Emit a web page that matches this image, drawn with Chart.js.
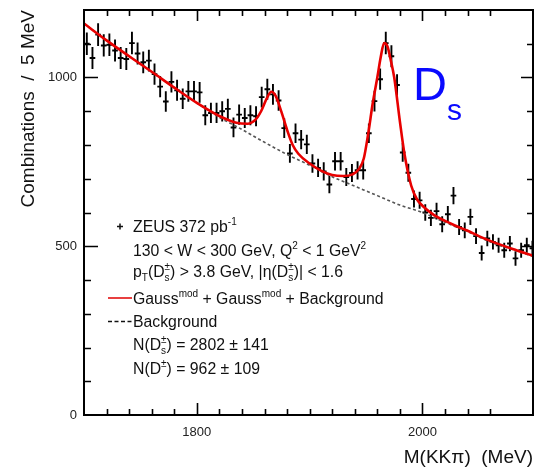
<!DOCTYPE html>
<html><head><meta charset="utf-8">
<script src="https://cdn.jsdelivr.net/npm/chart.js@4"></script>
<style>html,body{margin:0;padding:0;background:#fff;} canvas{display:block;}</style>
</head><body>
<canvas id="c" width="537" height="469"></canvas>
<script>
// ---- data ----
const binCenters = [1702.5,1707.5,1712.5,1717.5,1722.5,1727.5,1732.5,1737.5,1742.5,1747.5,
  1752.5,1757.5,1762.5,1767.5,1772.5,1777.5,1782.5,1787.5,1792.5,1797.5,
  1802.5,1807.5,1812.5,1817.5,1822.5,1827.5,1832.5,1837.5,1842.5,1847.5,
  1852.5,1857.5,1862.5,1867.5,1872.5,1877.5,1882.5,1887.5,1892.5,1897.5,
  1902.5,1907.5,1912.5,1917.5,1922.5,1927.5,1932.5,1937.5,1942.5,1947.5,
  1952.5,1957.5,1962.5,1967.5,1972.5,1977.5,1982.5,1987.5,1992.5,1997.5,
  2002.5,2007.5,2012.5,2017.5,2022.5,2027.5,2032.5,2037.5,2042.5,2047.5,
  2052.5,2057.5,2062.5,2067.5,2072.5,2077.5,2082.5,2087.5,2092.5,2097.5];
const counts = [1100,1058,1127,1095,1097,1080,1058,1055,1102,1071,
  1045,1050,1010,973,929,987,962,937,959,959,
  956,888,895,895,900,907,852,890,880,888,
  885,942,965,950,932,850,775,835,816,802,
  745,732,722,683,752,752,705,717,725,725,
  835,930,995,1102,1063,978,778,718,640,636,
  600,584,604,565,595,650,557,547,587,530,
  480,523,513,503,488,508,464,488,503,494];
const fitMass = [1700,1720,1740,1760,1780,1800,1820,1835,1845,1852,1857,1862,1866,1870,1875,1880,1885,1890,1900,1910,1920,1930,1938,1944,1948,1952,1956,1960,1963,1966,1969,1972,1975,1980,1984,1990,1995,2000,2010,2020,2030,2040,2050,2060,2080,2098];
const fitVals = [1160,1110,1063,1017,970,925,886,866,863,875,900,938,958,945,898,845,800,774,745,724,711,708,713,730,760,835,925,1000,1060,1102,1092,1050,1000,870,775,680,640,620,593,575,560,546,530,516,492,472];
const bgMass = [1700,1720,1740,1760,1780,1800,1820,1840,1860,1880,1900,1920,1940,1960,1980,2000,2020,2040,2060,2080,2098];
const bgVals = [1160,1110,1063,1017,970,925,882,846,808,772,740,706,678,650,622,600,571,543,513,490,470];
const xTickLabels = [1800, 2000];
const yTickLabels = [0, 500, 1000];
const binHalfWidth = 2.5;

const toXY = (xs, ys) => xs.map((x, i) => ({x: x, y: ys[i]}));
const FONT = "'Liberation Sans', Arial, Helvetica, sans-serif";

function drawRich(ctx, x, y, parts, size) {
  ctx.textBaseline = 'alphabetic';
  ctx.textAlign = 'left';
  const small = Math.round(size * 0.64);
  for (const p of parts) {
    if (typeof p === 'string') {
      ctx.font = size + 'px ' + FONT;
      ctx.fillText(p, x, y);
      x += ctx.measureText(p).width;
    } else {
      const kind = p[0], a = p[1], b = p[2];
      ctx.font = small + 'px ' + FONT;
      if (kind === 'sup') {
        ctx.fillText(a, x, y - size * 0.42); x += ctx.measureText(a).width;
      } else if (kind === 'sub') {
        ctx.fillText(a, x, y + size * 0.25); x += ctx.measureText(a).width;
      } else {
        ctx.fillText(a, x, y - size * 0.42);
        const w1 = ctx.measureText(a).width;
        ctx.fillText(b, x, y + size * 0.27);
        const w2 = ctx.measureText(b).width;
        x += Math.max(w1, w2);
      }
    }
  }
}

const overlay = {
  id: 'overlay',
  beforeDatasetsDraw(chart) {
    const ctx = chart.ctx, xs = chart.scales.x, ys = chart.scales.y, a = chart.chartArea;
    ctx.save();
    ctx.beginPath(); ctx.rect(a.left, a.top, a.right - a.left, a.bottom - a.top); ctx.clip();
    ctx.strokeStyle = '#000'; ctx.lineWidth = 1.9;
    const pts = chart.data.datasets[0].data;
    ctx.beginPath();
    for (const p of pts) {
      const e = Math.sqrt(p.y);
      const px = xs.getPixelForValue(p.x), py = ys.getPixelForValue(p.y);
      ctx.moveTo(xs.getPixelForValue(p.x - binHalfWidth), py);
      ctx.lineTo(xs.getPixelForValue(p.x + binHalfWidth), py);
      ctx.moveTo(px, ys.getPixelForValue(p.y - e));
      ctx.lineTo(px, ys.getPixelForValue(p.y + e));
    }
    ctx.stroke();
    ctx.restore();
  },
  afterDatasetsDraw(chart) {
    const ctx = chart.ctx, xs = chart.scales.x, ys = chart.scales.y, a = chart.chartArea;
    ctx.save();
    ctx.strokeStyle = '#000';
    ctx.lineWidth = 2;
    ctx.strokeRect(a.left, a.top, a.right - a.left, a.bottom - a.top);
    ctx.lineWidth = 1.6;
    ctx.beginPath();
    for (const t of xs.ticks) {
      const v = t.value;
      if (v <= xs.min || v >= xs.max) continue;
      const px = Math.round(xs.getPixelForValue(v)) + 0.5;
      const major = xTickLabels.includes(v);
      ctx.moveTo(px, a.bottom); ctx.lineTo(px, a.bottom - (major ? 12 : 6));
      ctx.moveTo(px, a.top); ctx.lineTo(px, a.top + (major ? 11 : 6));
    }
    for (const t of ys.ticks) {
      const v = t.value;
      if (v <= ys.min || v >= ys.max) continue;
      const py = Math.round(ys.getPixelForValue(v)) + 0.5;
      const major = yTickLabels.includes(v);
      ctx.moveTo(a.left, py); ctx.lineTo(a.left + (major ? 14 : 7), py);
      ctx.moveTo(a.right, py); ctx.lineTo(a.right - (major ? 12 : 6), py);
    }
    ctx.stroke();

    // legend block
    const size = 15.8;
    ctx.fillStyle = '#111';
    ctx.strokeStyle = '#111';
    ctx.lineWidth = 1.5;
    ctx.beginPath();
    ctx.moveTo(117, 226.5); ctx.lineTo(123, 226.5);
    ctx.moveTo(120, 223.5); ctx.lineTo(120, 229.5);
    ctx.stroke();
    const lx = 133;
    drawRich(ctx, lx, 232, ['ZEUS 372 pb', ['sup', '-1']], size);
    drawRich(ctx, lx, 255.5, ['130 < W < 300 GeV, Q', ['sup', '2'], ' < 1 GeV', ['sup', '2']], size);
    drawRich(ctx, lx, 277, ['p', ['sub', 'T'], '(D', ['ss', '\u00b1', 's'], ') > 3.8 GeV, |\u03b7(D', ['ss', '\u00b1', 's'], ')| < 1.6'], size);
    ctx.strokeStyle = '#e00000'; ctx.lineWidth = 1.5;
    ctx.beginPath(); ctx.moveTo(108, 298); ctx.lineTo(132, 298); ctx.stroke();
    drawRich(ctx, lx, 303.5, ['Gauss', ['sup', 'mod'], ' + Gauss', ['sup', 'mod'], ' + Background'], size);
    ctx.strokeStyle = '#111'; ctx.setLineDash([4, 2.5]);
    ctx.beginPath(); ctx.moveTo(108, 321.5); ctx.lineTo(132, 321.5); ctx.stroke();
    ctx.setLineDash([]);
    drawRich(ctx, lx, 327, ['Background'], size);
    drawRich(ctx, lx, 349.5, ['N(D', ['ss', '\u00b1', 's'], ') = 2802 \u00b1 141'], size);
    drawRich(ctx, lx, 373.5, ['N(D', ['sup', '\u00b1'], ') = 962 \u00b1 109'], size);

    // D_s label
    ctx.fillStyle = '#0a0aff';
    ctx.textBaseline = 'alphabetic'; ctx.textAlign = 'left';
    ctx.font = '47px ' + FONT;
    ctx.fillText('D', 413, 100);
    ctx.font = '30px ' + FONT;
    ctx.fillText('s', 447, 120);
    ctx.restore();
  }
};

new Chart(document.getElementById('c'), {
  type: 'scatter',
  data: {
    datasets: [
      {label: 'ZEUS 372 pb-1', data: toXY(binCenters, counts), pointRadius: 0, showLine: false, order: 3},
      {label: 'Gauss mod + Gauss mod + Background', data: toXY(fitMass, fitVals), showLine: true, pointRadius: 0,
       borderColor: '#e80000', borderWidth: 2.6, cubicInterpolationMode: 'monotone', order: 1},
      {label: 'Background', data: toXY(bgMass, bgVals), showLine: true, pointRadius: 0,
       borderColor: '#555', borderWidth: 1.6, borderDash: [3, 2.5], cubicInterpolationMode: 'monotone', order: 2}
    ]
  },
  options: {
    responsive: false, animation: false, devicePixelRatio: 1,
    layout: {padding: {top: 10, right: 4, left: 0, bottom: 0}},
    plugins: {legend: {display: false}, tooltip: {enabled: false}},
    scales: {
      x: {
        type: 'linear', min: 1700, max: 2098, position: 'bottom',
        grid: {display: false, drawTicks: false}, border: {display: false},
        afterFit: (s) => { s.height = 54; s.paddingLeft = 0; s.paddingRight = 0; },
        ticks: {stepSize: 20, autoSkip: false, maxRotation: 0, padding: 10, color: '#222',
          font: {family: FONT, size: 13},
          callback: (v) => xTickLabels.includes(v) ? String(v) : ''},
        title: {display: true, text: 'M(KK\u03c0)  (MeV)', align: 'end', color: '#111',
          font: {family: FONT, size: 19}, padding: {top: 0, bottom: 0}}
      },
      y: {
        type: 'linear', min: 0, max: 1200,
        grid: {display: false, drawTicks: false}, border: {display: false},
        afterFit: (s) => { s.width = 84; s.paddingTop = 0; s.paddingBottom = 0; },
        ticks: {stepSize: 100, autoSkip: false, padding: 7, color: '#222',
          font: {family: FONT, size: 13},
          callback: (v) => yTickLabels.includes(v) ? String(v) : ''},
        title: {display: true, text: 'Combinations  /  5 MeV', align: 'end', color: '#111',
          font: {family: FONT, size: 19}, padding: {top: 17, bottom: 0}}
      }
    }
  },
  plugins: [overlay]
});
</script>
</body></html>
